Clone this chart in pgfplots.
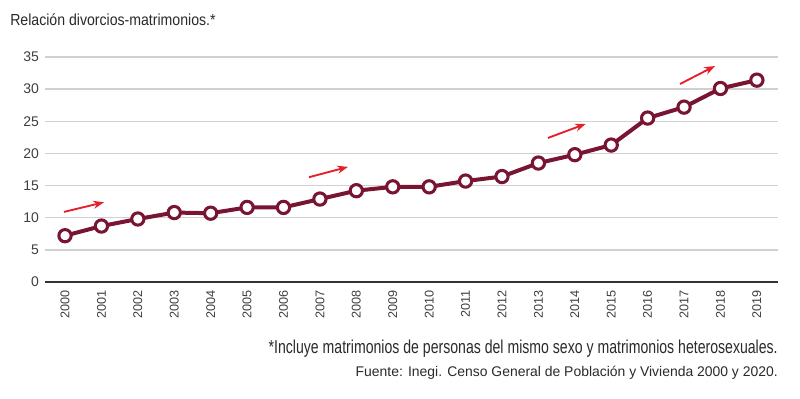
\documentclass[border=0pt]{standalone}
\usepackage{pgfplots}
\pgfplotsset{compat=1.18}
\usetikzlibrary{arrows.meta}
\usepackage{fontspec}
\setmainfont{Liberation Sans}
\definecolor{wine}{HTML}{7A1433}
\definecolor{gridc}{HTML}{D0D0D0}
\definecolor{txt}{HTML}{2A2A2A}
\definecolor{tick}{HTML}{3F3F3F}
\definecolor{arrowred}{HTML}{E5202A}
\begin{document}
\begin{tikzpicture}
\begin{axis}[
  name=ax,
  scale only axis,
  width=549.75pt, height=168.75pt,
  xmin=1999.45, xmax=2019.58,
  ymin=0, ymax=35,
  clip=false,
  axis x line*=bottom,
  axis y line*=left,
  y axis line style={draw=none},
  x axis line style={draw=black!80, line width=1.1pt},
  xtick={2000,2001,...,2019},
  ytick={0,5,...,35},
  major tick length=0pt,
  ymajorgrids,
  major grid style={gridc, line width=1.1pt},
  /pgf/number format/assume math mode=true,
  /pgf/number format/1000 sep={},
  yticklabel style={font=\fontsize{10.5}{10.5}\selectfont, text=tick, xshift=-1pt},
  xticklabel style={font=\fontsize{9.5}{9.5}\selectfont, text=tick, rotate=90, anchor=east, xshift=-3pt},
]
\addplot[wine, line width=3pt, mark=*, mark size=4.6pt,
  mark options={fill=white, draw=wine, line width=2.3pt}]
  coordinates {
  (2000,7.2) (2001,8.7) (2002,9.8) (2003,10.8) (2004,10.7)
  (2005,11.6) (2006,11.6) (2007,12.9) (2008,14.2) (2009,14.8)
  (2010,14.8) (2011,15.7) (2012,16.4) (2013,18.5) (2014,19.8)
  (2015,21.3) (2016,25.5) (2017,27.2) (2018,30.1) (2019,31.4)
  };
\addplot[arrowred, line width=1.4pt, -{Stealth[length=8pt,width=6pt]}] coordinates {(1999.97,10.9) (2001.07,12.4)};
\addplot[arrowred, line width=1.4pt, -{Stealth[length=8pt,width=6pt]}] coordinates {(2006.7,16.3) (2007.77,17.9)};
\addplot[arrowred, line width=1.4pt, -{Stealth[length=8pt,width=6pt]}] coordinates {(2013.26,22.4) (2014.3,24.6)};
\addplot[arrowred, line width=1.4pt, -{Stealth[length=8pt,width=6pt]}] coordinates {(2016.89,30.8) (2017.85,33.6)};
\node[anchor=base west, inner sep=0pt, text=txt] at (rel axis cs:-0.0477,1.142)
  {\resizebox{154pt}{\height}{\fontsize{12}{12}\selectfont Relación divorcios-matrimonios.*}};
\node[anchor=base east, inner sep=0pt, text=txt] at (rel axis cs:1.0,-0.316)
  {\resizebox{381.75pt}{\height}{\fontsize{14}{14}\selectfont *Incluye matrimonios de personas del mismo sexo y matrimonios heterosexuales.}};
\node[anchor=base east, inner sep=0pt, text=txt] at (rel axis cs:1.0,-0.422)
  {\resizebox{316.5pt}{\height}{\fontsize{10.5}{10.5}\selectfont Fuente: Inegi. Censo General de Población y Vivienda 2000 y 2020.}};
\coordinate (bl) at (rel axis cs:-0.06139,-0.52);
\coordinate (tr) at (rel axis cs:1.03001,1.25333);
\end{axis}
\pgfresetboundingbox
\path[use as bounding box] (bl) rectangle (tr);
\end{tikzpicture}
\end{document}
